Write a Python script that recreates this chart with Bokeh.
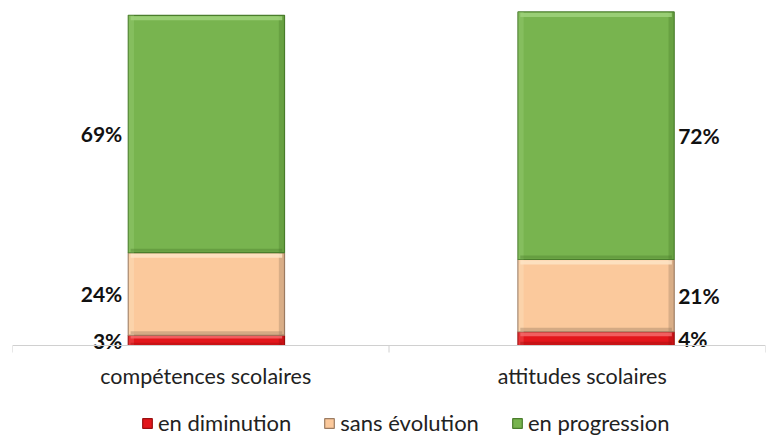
from bokeh.plotting import figure
from bokeh.models import (ColumnDataSource, Range1d, Legend, LegendItem,
                          LabelSet, Span)
from bokeh.core.properties import value
from bokeh.embed import file_html
from bokeh.resources import INLINE

categories = ["compétences scolaires", "attitudes scolaires"]
series = ["en diminution", "sans évolution", "en progression"]
en_diminution = [3, 4]
sans_evolution = [24, 21]
en_progression = [69, 72]
colors = ["#e3161b", "#fbc99c", "#78b44f"]
light_colors = ["#f36b6b", "#fde4c6", "#9fd27b"]
dark_colors = ["#9a0f0f", "#9c7c62", "#4a7d2c"]

W, H = 776, 437
top_px, base_px = 10, 345
left_px, right_px = 12, 765
ymax = 97.4
ppu = (base_px - top_px) / ymax
ymin = -(H - base_px) / ppu

xpos = [0.515, 1.55]
bar_w = 0.415
xppu = (right_px - left_px) / 2.0

p = figure(width=W, height=H, output_backend="svg", toolbar_location=None,
           x_range=Range1d(0, 2), y_range=Range1d(ymin, ymax))
p.min_border_left = left_px
p.min_border_right = W - right_px
p.min_border_top = top_px
p.min_border_bottom = 0
p.outline_line_color = None
p.grid.visible = False
p.axis.visible = False
p.background_fill_color = "white"
p.border_fill_color = "white"

vals = [en_diminution, sans_evolution, en_progression]
bev_y = 5 / ppu
bev_x = 6 / xppu
bottoms = [0, 0]
renderers = []
for s, v, c, lc, dc in zip(series, vals, colors, light_colors, dark_colors):
    tops = [b + x for b, x in zip(bottoms, v)]
    src = ColumnDataSource(dict(x=xpos, bottom=bottoms, top=tops))
    r = p.vbar(x="x", width=bar_w, bottom="bottom", top="top", source=src,
               fill_color=c, line_color=dc, line_width=1.2)
    h = [min(bev_y, x / 3) for x in v]
    # right shadow
    p.vbar(x=[xx + bar_w / 2 - bev_x / 2 for xx in xpos], width=bev_x * 0.9,
           bottom=bottoms, top=tops, fill_color=dc, line_color=None, fill_alpha=0.35)
    # left highlight
    p.vbar(x=[xx - bar_w / 2 + bev_x / 2 for xx in xpos], width=bev_x * 0.9,
           bottom=bottoms, top=tops, fill_color=lc, line_color=None, fill_alpha=0.35)
    # top highlight
    p.vbar(x=xpos, width=bar_w * 0.97, top=[t - 0.25 for t in tops],
           bottom=[t - hh for t, hh in zip(tops, h)],
           fill_color=lc, line_color=None, fill_alpha=0.85)
    # bottom shadow
    p.vbar(x=xpos, width=bar_w * 0.97, bottom=[b + 0.25 for b in bottoms],
           top=[b + hh * 0.8 for b, hh in zip(bottoms, h)],
           fill_color=dc, line_color=None, fill_alpha=0.4)
    renderers.append((s, r))
    bottoms = tops

# value labels
lab_left = dict(x=[], y=[], t=[])
lab_right = dict(x=[], y=[], t=[])
bottoms = [0, 0]
for v in vals:
    for i in range(2):
        mid = bottoms[i] + v[i] / 2
        d = lab_left if i == 0 else lab_right
        d["x"].append(xpos[i] + (-1 if i == 0 else 1) * bar_w / 2)
        d["y"].append(mid)
        d["t"].append(f"{v[i]}%")
    bottoms = [b + x for b, x in zip(bottoms, [v[0], v[1]])]

for d, align, off in [(lab_left, "right", -6), (lab_right, "left", 4)]:
    ls = LabelSet(x="x", y="y", text="t", source=ColumnDataSource(d),
                  text_align=align, text_baseline="middle", x_offset=off,
                  text_font=value("Lato"), text_font_style="bold",
                  text_font_size="21px", text_color="#111111")
    p.add_layout(ls)

# category axis drawn by hand
p.add_layout(Span(location=0, dimension="width", line_color="#d0d0d0", line_width=1))
tick_x = list(range(len(categories) + 1))
p.segment(x0=tick_x, x1=tick_x, y0=[0] * len(tick_x), y1=[-7 / ppu] * len(tick_x),
          line_color="#d0d0d0", line_width=1)
p.text(x=[i + 0.5 for i in range(len(categories))], y=[0, 0], text=categories,
       text_align="center", text_baseline="middle", x_offset=5, y_offset=30,
       text_font=value("Lato"), text_font_size="21.5px", text_color="#222222")

legend = Legend(items=[LegendItem(label=s, renderers=[r]) for s, r in renderers],
                orientation="horizontal", location=(129, 1),
                label_text_font="Lato", label_text_font_size="22px",
                label_text_color="#222222", glyph_width=12, glyph_height=12,
                label_standoff=5, spacing=32, padding=0, margin=0,
                border_line_color=None, background_fill_alpha=0)
p.add_layout(legend, "center")

open("out.html", "w").write(file_html(p, INLINE))
